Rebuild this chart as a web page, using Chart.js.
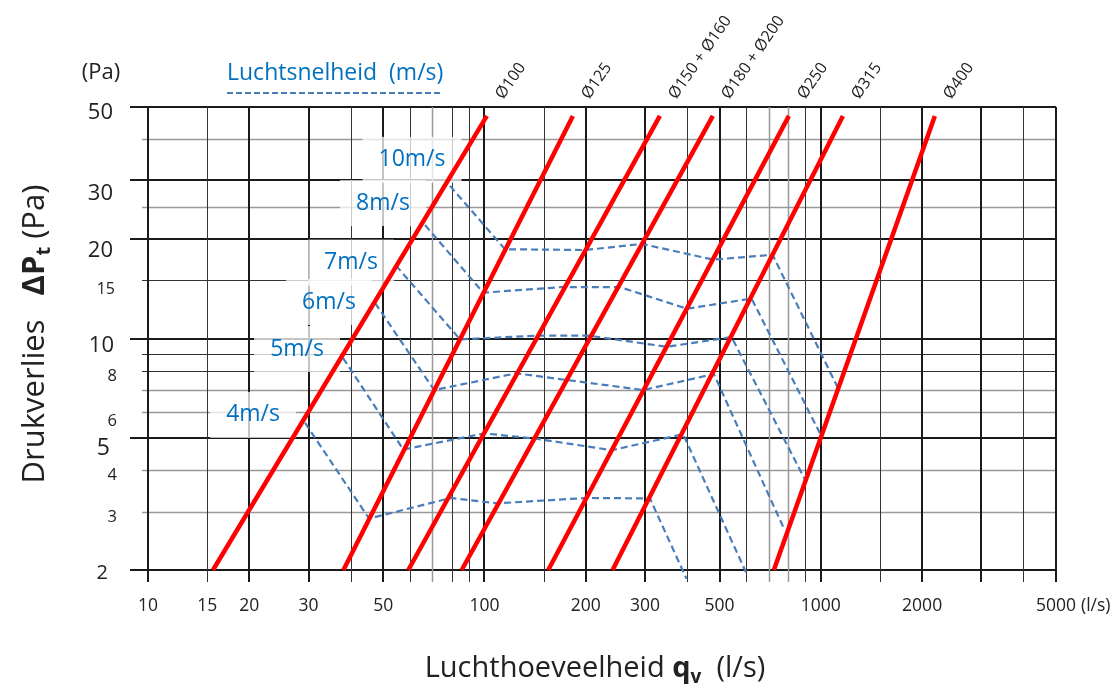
<!DOCTYPE html>
<html>
<head>
<meta charset="utf-8">
<script src="https://cdn.jsdelivr.net/npm/chart.js@4.4.1/dist/chart.umd.min.js"></script>
<style>
  html, body { margin: 0; padding: 0; background: #fff; }
  #wrap { width: 1120px; height: 684px; position: relative; }
</style>
</head>
<body>
<div id="wrap"><canvas id="chart"></canvas></div>
<script>
// Kanaaldiameters (rode lijnen): debiet (l/s) bij 2 Pa en bij 47 Pa
const diameters = ['Ø100', 'Ø125', 'Ø150 + Ø160', 'Ø180 + Ø200', 'Ø250', 'Ø315', 'Ø400'];
const ductFlowLow = [15.6, 38.1, 59.4, 85.6, 154.8, 240.4, 725];
const ductFlowHigh = [101.7, 183.2, 332.3, 477.5, 803.5, 1163, 2182];
const ductDp = [2, 47];

// Luchtsnelheid (blauwe stippellijnen): debiet (l/s) en drukverlies (Pa)
const velocities = ['10m/s', '8m/s', '7m/s', '6m/s', '5m/s', '4m/s'];
const flow10 = [79.0, 115.1, 198.9, 293.8, 478.6, 718.6, 1131];
const dp10 = [28.9, 18.6, 18.5, 19.3, 17.3, 17.9, 7.0];
const flow8 = [66.6, 99.2, 169.9, 252.7, 399.7, 622.3, 1007];
const dp8 = [22.0, 13.75, 14.3, 14.3, 12.3, 13.2, 5.04];
const flow7 = [54.6, 84.6, 144.2, 204.4, 348.6, 542.8, 900.6];
const dp7 = [16.6, 9.94, 10.2, 10.2, 9.44, 10.1, 3.72];
const flow6 = [47.3, 70.9, 124.1, 296.5, 480.8, 776.3];
const dp6 = [12.8, 6.99, 7.85, 6.99, 7.81, 2.67];
const flow5 = [38.0, 57.4, 99.7, 140.8, 239.2, 389.7, 598.7];
const dp5 = [8.73, 4.62, 5.17, 4.99, 4.60, 5.14, 1.97];
const flow4 = [29.3, 45.4, 79.5, 109.3, 201.6, 310.4, 398.9];
const dp4 = [5.56, 2.86, 3.30, 3.18, 3.30, 3.29, 1.88];

// As-labels en rasterlijnen
const xTickLabels = [10, 15, 20, 30, 50, 100, 200, 300, 500, 1000, 2000, 5000];
const yTickLabels = [50, 30, 20, 15, 10, 8, 6, 5, 4, 3, 2];
const xGridMajor = [10, 20, 30, 50, 100, 200, 300, 500, 1000, 2000, 3000, 5000];
const xGridMinor = [15, 40, 60, 70, 80, 90, 150, 400, 600, 700, 800, 900, 1500, 4000];
const yGridMajor = [2, 5, 10, 20, 30, 50];
const yGridMinor = [3, 4, 6, 7, 8, 9, 15, 25, 40];

// --- opmaak ---
const FONT = '"Open Sans", "Noto Sans", sans-serif';
const TEXT = '#222';
const BLUE_TEXT = '#0070c0';
const BLUE_LINE = '#4a7ebb';
const lightX = [70, 700, 800];
const lightY = [3, 4, 6, 7, 25, 40];
// per y-label: lettergrootte, verschuiving onder de lijn, rechterrand
const yTickStyle = {
  50: [22, 6, 113], 30: [22, 13, 113], 20: [22, 12, 113], 15: [16, 9, 115],
  10: [22, 7, 114], 8: [16.5, 6, 117], 6: [16.5, 9, 117], 5: [23, 10, 110],
  4: [16.5, 5, 117], 3: [16.5, 6, 117], 2: [20, 3, 108]
};
// positie van snelheidslabel t.o.v. het beginpunt van de lijn
const velLabelShift = [[-38, -26], [-42, -22], [-45, -3], [-46, -1], [-46, -9], [-52, -8]];

const velFlows = [flow10, flow8, flow7, flow6, flow5, flow4];
const velDps = [dp10, dp8, dp7, dp6, dp5, dp4];

const ductSets = diameters.map((d, i) => ({
    label: d,
    data: [{ x: ductFlowLow[i], y: ductDp[0] }, { x: ductFlowHigh[i], y: ductDp[1] }],
    showLine: true,
    borderColor: '#ff0000',
    borderWidth: 4.5,
    borderCapStyle: 'butt',
    pointRadius: 0,
    clip: false,
    order: 0
}));

const velSets = velocities.map((v, i) => ({
    label: v,
    data: velFlows[i].map((q, k) => ({ x: q, y: velDps[i][k] })),
    showLine: true,
    borderColor: BLUE_LINE,
    borderWidth: 2.2,
    borderDash: [7, 4],
    pointRadius: 0,
    clip: false,
    order: 1
}));

// rasterlijnen zelf tekenen (verschillende diktes en uitsteeklengtes)
const gridLines = {
    id: 'gridLines',
    beforeDatasetsDraw(chart) {
        const { ctx, chartArea: a, scales: { x, y } } = chart;
        ctx.save();
        const style = (major, light) => {
            ctx.lineWidth = major ? 2 : (light ? 1.5 : 1);
            ctx.strokeStyle = major ? '#1a1a1a' : (light ? '#999' : '#333');
        };
        yGridMinor.concat(yGridMajor).forEach(v => {
            const major = yGridMajor.includes(v);
            style(major, lightY.includes(v));
            const py = Math.round(y.getPixelForValue(v)) + (major ? 0 : 0.5);
            ctx.beginPath();
            ctx.moveTo(a.left - (major ? 18 : 6), py);
            ctx.lineTo(a.right, py);
            ctx.stroke();
        });
        xGridMinor.concat(xGridMajor).forEach(v => {
            const major = xGridMajor.includes(v);
            style(major, lightX.includes(v));
            const px = Math.round(x.getPixelForValue(v)) + (major ? 0 : 0.5);
            ctx.beginPath();
            ctx.moveTo(px, a.top);
            ctx.lineTo(px, a.bottom + 12);
            ctx.stroke();
        });
        ctx.restore();
    }
};

// snelheidslabels met half doorzichtig wit vlak
const velLabels = {
    id: 'velLabels',
    beforeDatasetsDraw(chart) {
        const { ctx, scales: { x, y } } = chart;
        ctx.save();
        ctx.font = '23px ' + FONT;
        ctx.textAlign = 'center';
        ctx.textBaseline = 'middle';
        velocities.forEach((v, i) => {
            const cx = x.getPixelForValue(velFlows[i][0]) + velLabelShift[i][0];
            const cy = y.getPixelForValue(velDps[i][0]) + velLabelShift[i][1];
            const w = ctx.measureText(v).width + 32;
            ctx.fillStyle = 'rgba(255,255,255,0.75)';
            ctx.fillRect(cx - w / 2, cy - 23, w, 46);
            ctx.fillStyle = BLUE_TEXT;
            ctx.fillText(v, cx, cy);
        });
        ctx.restore();
    }
};

function drawRuns(ctx, runs, cx, cy) {
    let total = 0;
    runs.forEach(r => { ctx.font = r[1]; total += ctx.measureText(r[0]).width; });
    let pos = cx - total / 2;
    runs.forEach(r => {
        ctx.font = r[1];
        ctx.fillText(r[0], pos, cy + (r[2] || 0));
        pos += ctx.measureText(r[0]).width;
    });
}

// as-labels, titels en diameterlabels
const textLayer = {
    id: 'textLayer',
    afterDraw(chart) {
        const { ctx, chartArea: a, scales: { x, y } } = chart;
        ctx.save();
        ctx.fillStyle = TEXT;

        // y-labels
        ctx.textAlign = 'right';
        ctx.textBaseline = 'middle';
        yTickLabels.forEach(v => {
            const s = yTickStyle[v];
            ctx.font = s[0] + 'px ' + FONT;
            ctx.fillText(String(v), s[2], y.getPixelForValue(v) + s[1]);
        });

        // x-labels
        ctx.textAlign = 'center';
        ctx.font = '17.5px ' + FONT;
        xTickLabels.forEach(v => {
            ctx.fillText(String(v), x.getPixelForValue(v), 606);
        });
        const last = xTickLabels[xTickLabels.length - 1];
        ctx.textAlign = 'left';
        ctx.fillText('(l/s)', x.getPixelForValue(last) + ctx.measureText(String(last)).width / 2 + 5, 606);

        // eenheid boven y-as
        ctx.font = '22px ' + FONT;
        ctx.textAlign = 'center';
        ctx.fillText('(Pa)', 101, 73);

        // legenda luchtsnelheid
        ctx.fillStyle = BLUE_TEXT;
        ctx.textAlign = 'left';
        ctx.font = '23px ' + FONT;
        ctx.fillText('Luchtsnelheid  (m/s)', 227, 73);
        ctx.strokeStyle = BLUE_LINE;
        ctx.lineWidth = 2;
        ctx.setLineDash([6, 3]);
        ctx.beginPath();
        ctx.moveTo(227, 93);
        ctx.lineTo(442, 93);
        ctx.stroke();
        ctx.setLineDash([]);

        // diameterlabels schuin boven elke lijn
        ctx.fillStyle = TEXT;
        ctx.font = '16px ' + FONT;
        ctx.textBaseline = 'bottom';
        diameters.forEach((d, i) => {
            ctx.save();
            ctx.translate(x.getPixelForValue(ductFlowHigh[i]) + 19, a.top - 5);
            ctx.rotate(-55 * Math.PI / 180);
            ctx.fillText(d, 0, 0);
            ctx.restore();
        });

        // as-titels
        ctx.textAlign = 'left';
        ctx.textBaseline = 'alphabetic';
        drawRuns(ctx, [
            ['Luchthoeveelheid ', '29px ' + FONT],
            ['q', 'bold 29px ' + FONT],
            ['v', 'bold 19px ' + FONT, 6],
            ['  (l/s)', '29px ' + FONT]
        ], 595, 677);

        ctx.save();
        ctx.translate(44, 334);
        ctx.rotate(-Math.PI / 2);
        drawRuns(ctx, [
            ['Drukverlies   ', '31px ' + FONT],
            ['ΔP', 'bold 31px ' + FONT],
            ['t', 'bold 20px ' + FONT, 6],
            [' (Pa)', '31px ' + FONT]
        ], 0, 0);
        ctx.restore();

        ctx.restore();
    }
};

new Chart(document.getElementById('chart'), {
    type: 'scatter',
    data: { datasets: ductSets.concat(velSets) },
    options: {
        responsive: true,
        maintainAspectRatio: false,
        animation: false,
        layout: { padding: { left: 148, right: 64, top: 107, bottom: 114 } },
        plugins: {
            legend: { display: false },
            tooltip: { enabled: false }
        },
        scales: {
            x: { type: 'logarithmic', display: false, min: 10, max: 5000 },
            y: { type: 'logarithmic', display: false, min: 2, max: 50 }
        }
    },
    plugins: [gridLines, velLabels, textLayer]
});
</script>
</body>
</html>
